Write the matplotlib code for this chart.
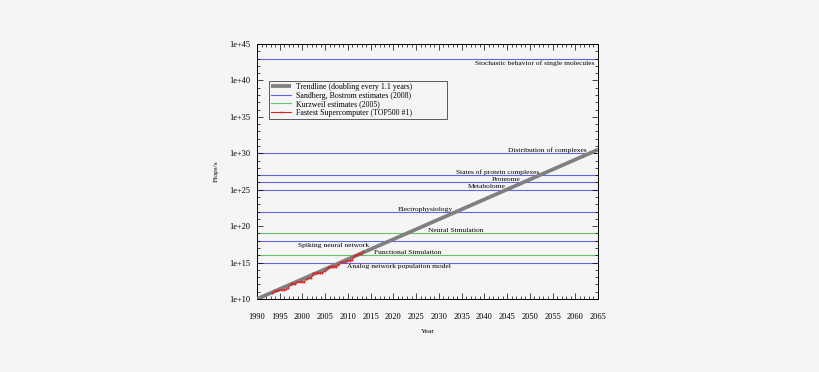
import matplotlib
matplotlib.use("Agg")
import matplotlib.pyplot as plt
from matplotlib.ticker import FixedLocator, NullFormatter

# Sandberg & Bostrom (2008) estimates, flops/s
sb_names = ["Analog network population model", "Spiking neural network",
            "Electrophysiology", "Metabolome", "Proteome",
            "States of protein complexes", "Distribution of complexes",
            "Stochastic behavior of single molecules"]
sb_values = [1e15, 1e18, 1e22, 1e25, 1e26, 1e27, 1e30, 1e43]

# Kurzweil (2005) estimates
kz_names = ["Functional Simulation", "Neural Simulation"]
kz_values = [1e16, 1e19]

# trendline endpoints (doubling every 1.1 years)
trend_years = [1990, 2065]
trend_flops = [1e10, 3.2e30]

# fastest supercomputer (TOP500 #1)
top_years = [1993.4, 1993.9, 1994.4, 1994.9, 1995.4, 1995.9, 1996.4, 1996.9,
             1997.4, 1997.9, 1998.4, 1998.9, 1999.4, 1999.9, 2000.4, 2000.9,
             2001.4, 2001.9, 2002.4, 2002.9, 2003.4, 2003.9, 2004.4, 2004.9,
             2005.4, 2005.9, 2006.4, 2006.9, 2007.4, 2007.9, 2008.4, 2008.9,
             2009.4, 2009.9, 2010.4, 2010.9, 2011.4, 2011.9, 2012.4, 2012.9,
             2013.4]
top_flops = [5.97e10, 1.24e11, 1.43e11, 1.70e11, 1.70e11, 1.70e11, 2.20e11, 3.68e11,
             1.07e12, 1.34e12, 1.34e12, 2.12e12, 2.12e12, 2.38e12, 2.38e12, 4.94e12,
             7.23e12, 7.23e12, 3.59e13, 3.59e13, 3.59e13, 3.59e13, 3.59e13, 7.07e13,
             1.37e14, 2.81e14, 2.81e14, 2.81e14, 2.81e14, 4.78e14, 1.03e15, 1.11e15,
             1.11e15, 1.76e15, 1.76e15, 2.57e15, 8.16e15, 1.05e16, 1.63e16, 1.76e16,
             3.39e16]

# label placement: (year, factor above/below line, ha)
sb_label_pos = [(2009.9, 10**-0.55, "left"), (2014.6, 10**-0.6, "right"),
                (2033.2, 10**0.35, "right"), (2044.6, 10**0.42, "right"),
                (2048.0, 10**0.43, "right"), (2052.1, 10**0.47, "right"),
                (2062.6, 10**0.45, "right"), (2064.3, 10**-0.6, "right")]
kz_label_pos = [(2015.8, 10**0.36, "left"), (2039.8, 10**0.43, "right")]

BG = "#f5f5f5"
BLUE = "#6464dc"
GREEN = "#6cbf6c"
FONT = "Liberation Serif"
FS = 5.4       # annotation labels
FS_TICK = 6.0
FS_LEG = 5.7

plt.rcParams["font.family"] = FONT
fig = plt.figure(figsize=(8.2, 3.72), dpi=100, facecolor=BG)
ax = fig.add_axes([0.3134, 0.1962, 0.4159, 0.6855], facecolor=BG)

ax.plot(trend_years, trend_flops, color="#808080", lw=2.7, solid_capstyle="butt",
        label="Trendline (doubling every 1.1 years)", zorder=3)

for i, (name, val) in enumerate(zip(sb_names, sb_values)):
    ax.axhline(val, color=BLUE, lw=0.8, zorder=1,
               label="Sandberg, Bostrom estimates (2008)" if i == 0 else None)
    x, f, ha = sb_label_pos[i]
    ax.text(x, val * f, name, fontsize=FS, ha=ha, va="center", zorder=4)

for i, (name, val) in enumerate(zip(kz_names, kz_values)):
    ax.axhline(val, color=GREEN, lw=0.8, zorder=1,
               label="Kurzweil estimates (2005)" if i == 0 else None)
    x, f, ha = kz_label_pos[i]
    ax.text(x, val * f, name, fontsize=FS, ha=ha, va="center", zorder=4)

ax.plot(top_years, top_flops, color="#e02020", lw=0.8, marker="o", ms=1.4,
        mew=0, label="Fastest Supercomputer (TOP500 #1)", zorder=5)

ax.set_yscale("log")
ax.set_xlim(1990, 2065)
ax.set_ylim(1e10, 1e45)

ax.set_xticks(range(1990, 2066, 5))
ax.set_xticks(range(1990, 2066), minor=True)
ax.yaxis.set_major_locator(FixedLocator([10.0 ** e for e in range(10, 46, 5)]))
ax.yaxis.set_minor_locator(FixedLocator([10.0 ** e for e in range(10, 46)]))
ax.yaxis.set_minor_formatter(NullFormatter())
ax.set_yticklabels(["1e+%d" % e for e in range(10, 46, 5)])

ax.tick_params(which="both", direction="in", top=True, right=True,
               labelsize=FS_TICK, width=0.5)
ax.tick_params(axis="x", which="major", pad=10)
ax.tick_params(axis="y", which="major", pad=5)
ax.tick_params(which="major", length=4)
ax.tick_params(which="minor", length=2)
for s in ax.spines.values():
    s.set_linewidth(0.7)

ax.set_xlabel("Year", fontsize=FS, labelpad=6)
ax.set_ylabel("Flops/s", fontsize=FS, labelpad=7)

leg = ax.legend(loc="upper left", bbox_to_anchor=(0.035, 0.714, 0.522, 0.141),
                mode="expand", borderaxespad=0, fontsize=FS_LEG,
                frameon=True, fancybox=False, edgecolor="#404040",
                facecolor=BG, framealpha=1, handlelength=2.6,
                borderpad=0.25, labelspacing=0.08, handletextpad=0.6)
leg.get_frame().set_linewidth(0.6)

fig.savefig("out.png", dpi=100, facecolor=BG)
